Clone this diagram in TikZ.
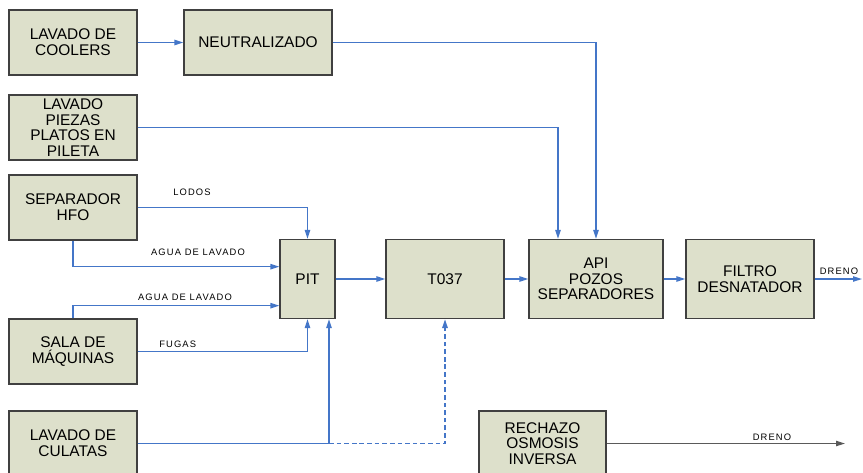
\documentclass[tikz,border=0pt]{standalone}
\usepackage{fontspec}
\setmainfont{Liberation Sans}
\newfontfamily\tagfont[LetterSpace=12]{Liberation Sans}
\usetikzlibrary{arrows.meta}
\definecolor{boxfill}{RGB}{221,224,203}
\definecolor{boxline}{RGB}{64,64,64}
\definecolor{flowblue}{RGB}{68,118,200}
\definecolor{drenogray}{RGB}{90,90,90}
\begin{document}
\begin{tikzpicture}[
    unit/.style={draw=boxline, line width=1pt, fill=boxfill, align=center, inner sep=0pt,
      minimum width=3.84cm, minimum height=1.95cm, font=\fontsize{13.2}{13.4}\selectfont},
    tall/.style={minimum height=2.37cm},
    flow/.style={draw=flowblue, line width=1.2pt, -{Triangle[length=2.7mm,width=1.6mm]}},
    tag/.style={inner sep=0pt, font=\tagfont\fontsize{8}{9}\selectfont}]
    \useasboundingbox (0,0) rectangle (25.89,-14.16);
    \node[unit] (coolers) at (2.19,-1.275) {LAVADO DE\\COOLERS};
    \node[unit, minimum width=4.44cm] (neutral) at (7.74,-1.275) {NEUTRALIZADO};
    \node[unit] (piezas) at (2.19,-3.825) {LAVADO\\PIEZAS\\PLATOS EN\\PILETA};
    \node[unit] (sephfo) at (2.19,-6.225) {SEPARADOR\\HFO};
    \node[unit] (sala) at (2.19,-10.545) {SALA DE\\MÁQUINAS};
    \node[unit] (culatas) at (2.19,-13.305) {LAVADO DE\\CULATAS};
    \node[unit, tall, minimum width=1.65cm] (pit) at (9.225,-8.37) {PIT};
    \node[unit, tall, minimum width=3.54cm] (t037) at (13.35,-8.37) {T037};
    \node[unit, tall, minimum width=4.02cm] (api) at (17.88,-8.37) {API\\POZOS\\SEPARADORES};
    \node[unit, tall] (filtro) at (22.5,-8.37) {FILTRO\\DESNATADOR};
    \node[unit, minimum width=3.81cm] (rechazo) at (16.275,-13.305) {RECHAZO\\OSMOSIS\\INVERSA};
    \coordinate (salida) at (25.86,-8.37);
    \coordinate (salidaro) at (25.35,-13.305);
    \coordinate (cruce) at ([xshift=0.645cm]pit.south |- culatas.east);
    \draw [flow] (coolers) -- (neutral);
    \draw [flow] (neutral.east) -| (api.north);
    \draw [flow] (piezas.east) -| ([xshift=-1.14cm]api.north);
    \draw [flow] (sephfo.east) -| (pit.north);
    \draw [flow] (sephfo.south) |- ([yshift=0.37cm]pit.west);
    \draw [flow] (sala.north) |- ([yshift=-0.8cm]pit.west);
    \draw [flow] (sala.east) -| (pit.south);
    \draw [flow] (culatas.east) -- (cruce) -- ([xshift=0.645cm]pit.south);
    \draw [flow, line width=1.6pt, dash pattern=on 4pt off 2.5pt] (cruce) -| (t037.south);
    \draw [flow] (pit) -- (t037);
    \draw [flow] (t037) -- (api);
    \draw [flow] (api) -- (filtro);
    \draw [flow] (filtro) -- (salida);
    \draw [flow, draw=drenogray] (rechazo) -- (salidaro);
    \node[tag] (lodos) at (5.76,-5.76) {LODOS};
    \node[tag] (agua1) at (5.94,-7.56) {AGUA DE LAVADO};
    \node[tag] (agua2) at (5.55,-8.91) {AGUA DE LAVADO};
    \node[tag] (fugas) at (5.33,-10.32) {FUGAS};
    \node[tag] (dreno1) at (25.17,-8.13) {DRENO};
    \node[tag] (dreno2) at (23.16,-13.11) {DRENO};
\end{tikzpicture}
\end{document}
